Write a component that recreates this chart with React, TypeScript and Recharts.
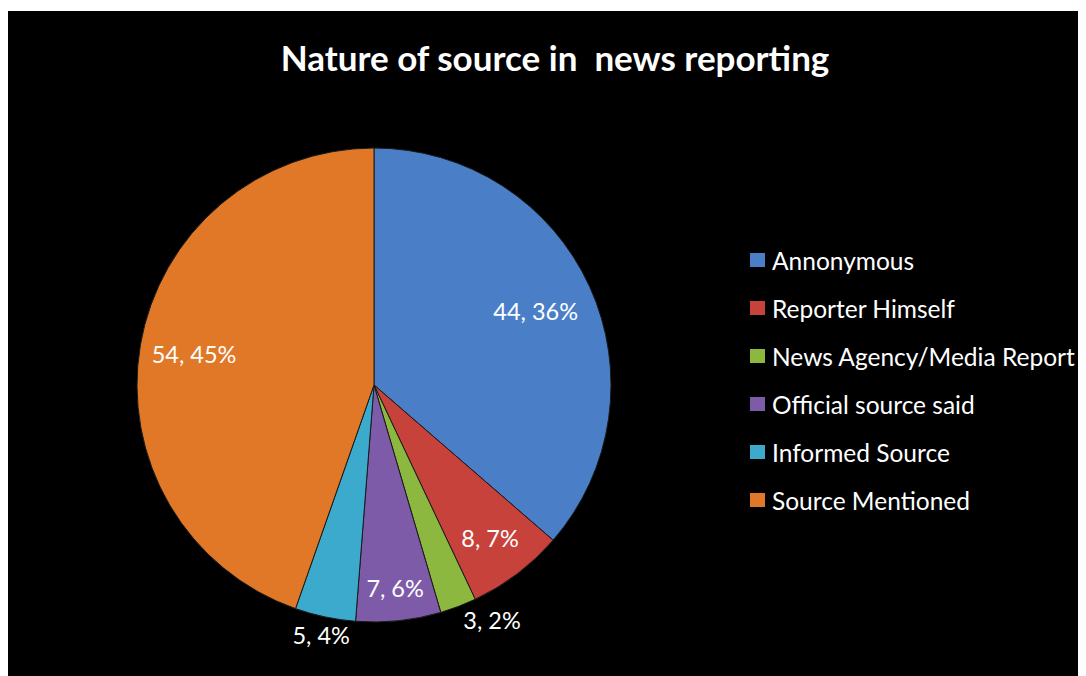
import React from "react";
import { PieChart, Pie, Cell, Legend } from "recharts";

const categories = [
  "Annonymous",
  "Reporter Himself",
  "News Agency/Media Report",
  "Official source said",
  "Informed Source",
  "Source Mentioned",
];
const counts = [44, 8, 3, 7, 5, 54];
const percents = [36, 7, 2, 6, 4, 45];

const COLORS = ["#4A7FC8", "#C8423C", "#8DB840", "#7E5BA8", "#3BAACC", "#E07828"];
const LABEL_RADIUS = [0.75, 0.81, 1.06, 0.86, 1.08, 0.77];

const data = categories.map((name, i) => ({
  name,
  value: counts[i],
  pct: percents[i],
}));

const FONT = "Lato, 'Open Sans', sans-serif";
const RAD = Math.PI / 180;

const renderLabel = (props: any) => {
  const { cx, cy, midAngle, outerRadius, index } = props;
  const f = LABEL_RADIUS[index];
  const r = outerRadius * f;
  const cos = Math.cos(-midAngle * RAD);
  const x = cx + r * cos;
  const y = cy + r * Math.sin(-midAngle * RAD);
  let anchor: "start" | "middle" | "end" = "middle";
  if (f > 1) {
    if (cos > 0.3) anchor = "start";
    else if (cos < -0.3) anchor = "end";
  }
  return (
    <text
      x={x}
      y={y}
      fill="#ffffff"
      textAnchor={anchor}
      dominantBaseline="central"
      fontFamily={FONT}
      fontSize={23.5}
    >
      {`${counts[index]}, ${percents[index]}%`}
    </text>
  );
};

const renderLegend = () => (
  <div style={{ fontFamily: FONT, fontSize: 24.5, color: "#fff" }}>
    {categories.map((c, i) => (
      <div
        key={c}
        style={{ display: "flex", alignItems: "center", height: 48 }}
      >
        <span
          style={{
            display: "inline-block",
            width: 15,
            height: 14,
            background: COLORS[i],
            marginRight: 7,
          }}
        />
        <span style={{ whiteSpace: "nowrap" }}>{c}</span>
      </div>
    ))}
  </div>
);

export default function App() {
  return (
    <div
      style={{
        position: "relative",
        width: 1078,
        height: 665,
        marginTop: 3,
        background: "#000",
      }}
    >
      <div
        style={{
          position: "absolute",
          left: 0,
          width: 1094,
          top: 25,
          textAlign: "center",
          color: "#fff",
          fontFamily: FONT,
          fontWeight: 700,
          fontSize: 35,
          whiteSpace: "pre",
        }}
      >
        {"Nature of source in  news reporting"}
      </div>
      <PieChart width={1078} height={665}>
        <Pie
          data={data}
          dataKey="value"
          nameKey="name"
          cx={361}
          cy={369}
          outerRadius={237}
          startAngle={90}
          endAngle={-270}
          stroke="#1a1a1a"
          strokeWidth={1}
          label={renderLabel}
          labelLine={false}
          isAnimationActive={false}
        >
          {data.map((d, i) => (
            <Cell key={d.name} fill={COLORS[i]} />
          ))}
        </Pie>
        <Legend
          content={renderLegend}
          layout="vertical"
          wrapperStyle={{ position: "absolute", left: 742, top: 225, width: 336 }}
        />
      </PieChart>
    </div>
  );
}
